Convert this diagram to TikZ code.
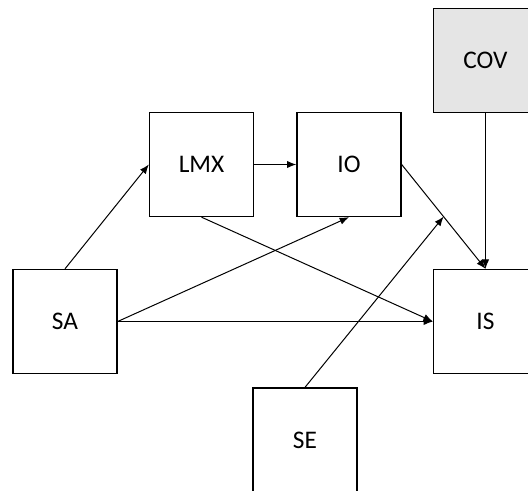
\documentclass[tikz,border=0pt]{standalone}
\usepackage{fontspec}
\setmainfont{Carlito}
\usetikzlibrary{arrows.meta}
\definecolor{covgray}{gray}{0.9}
\begin{document}
\begin{tikzpicture}[x=0.75pt,y=-0.75pt,
  var/.style={draw,line width=1pt,minimum width=78pt,minimum height=78pt,inner sep=0pt,font=\fontsize{19}{23}\selectfont},
  link/.style={-{Latex[length=7pt,width=5.5pt]},line width=0.75pt}]
\clip (0,0) rectangle (528,491);

\node[var,fill=covgray] (cov) at (485.5,60.5) {COV};
\node[var] (lmx) at (201.5,164.5) {LMX};
\node[var] (io) at (349,164.5) {IO};
\node[var] (sa) at (65,321.5) {SA};
\node[var] (is) at (485.5,321.5) {IS};
\node[var] (se) at (305,440) {SE};

\draw[link] (sa.north) -- (lmx.west);
\draw[link] (lmx) -- (io);
\draw[link] (sa.east) -- (io.south);
\draw[link] (sa) -- (is);
\draw[link] (lmx.south) -- (is.west);
\draw[link] (io.east) -- coordinate[pos=0.5] (mid) (is.north);
\draw[link] (cov) -- (is);
\draw[link] (se.north) -- (mid);
\end{tikzpicture}
\end{document}
